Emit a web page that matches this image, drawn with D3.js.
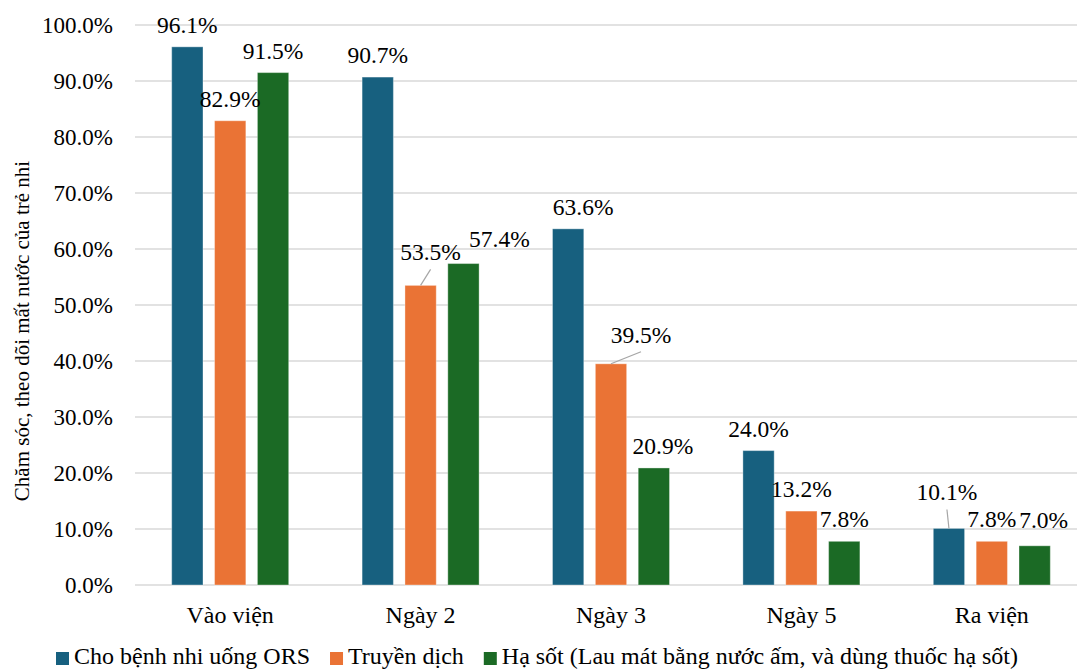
<!DOCTYPE html>
<html>
<head>
<meta charset="utf-8">
<script src="https://cdn.jsdelivr.net/npm/d3@7"></script>
<style>
  body { margin: 0; background: #fff; }
  svg text { font-family: "Liberation Serif", "Times New Roman", serif; fill: #000; }
</style>
</head>
<body>
<svg id="chart" width="1077" height="669"></svg>
<script>
// data
const categories = ['Vào viện', 'Ngày 2', 'Ngày 3', 'Ngày 5', 'Ra viện'];
const seriesNames = ['Cho bệnh nhi uống ORS', 'Truyền dịch', 'Hạ sốt (Lau mát bằng nước ấm, và dùng thuốc hạ sốt)'];
const ors = [96.1, 90.7, 63.6, 24.0, 10.1];
const truyenDich = [82.9, 53.5, 39.5, 13.2, 7.8];
const haSot = [91.5, 57.4, 20.9, 7.8, 7.0];
const yTicks = [0, 10, 20, 30, 40, 50, 60, 70, 80, 90, 100];

// label nudges [dx, dy, leader] per series, per category (layout only)
const labelNudge = [
  [[0, 0], [0, 0], [15, 0], [0, 0], [-2, -14, true]],
  [[0, 0], [10, -11, true], [30, -7, true], [0, 0], [0, 0]],
  [[0, 0], [36, -3], [9, 0], [0, 0], [9, -4]]
];

const colors = ['#17607f', '#ea7335', '#1b6a25'];
const series = [ors, truyenDich, haSot];

const svg = d3.select('#chart');
const margin = { left: 135, top: 25, bottom: 585 },
  plotRight = 1087;

const x = d3.scaleBand().domain(categories).range([margin.left, plotRight]).paddingInner(0).paddingOuter(0);
const xs = d3.scaleBand().domain(d3.range(3)).range([0, 117]).paddingInner(0.27);
const y = d3.scaleLinear().domain([0, 100]).range([margin.bottom, margin.top]);

// gridlines
svg.append('g')
  .selectAll('line')
  .data(yTicks)
  .join('line')
  .attr('x1', margin.left)
  .attr('x2', 1077)
  .attr('y1', d => y(d))
  .attr('y2', d => y(d))
  .style('stroke', '#d9d9d9')
  .style('stroke-width', 1.5);

// y tick labels
svg.append('g')
  .selectAll('text')
  .data(yTicks)
  .join('text')
  .attr('x', 113)
  .attr('y', d => y(d))
  .attr('dy', '0.33em')
  .style('text-anchor', 'end')
  .style('font-size', '23px')
  .text(d => d.toFixed(1) + '%');

// axis title
svg.append('text')
  .attr('transform', 'translate(29,331) rotate(-90)')
  .style('text-anchor', 'middle')
  .style('font-size', '21px')
  .text('Chăm sóc, theo dõi mất nước của trẻ nhi');

const groupOffset = (x.bandwidth() - 117) / 2;
const barX = (ci, si) => x(categories[ci]) + groupOffset + xs(si);

// bars
series.forEach((vals, si) => {
  svg.append('g')
    .selectAll('rect')
    .data(vals)
    .join('rect')
    .attr('x', (d, i) => barX(i, si))
    .attr('width', xs.bandwidth())
    .attr('y', d => y(d))
    .attr('height', d => y(0) - y(d))
    .style('fill', colors[si])
    .style('stroke', 'rgba(255,255,255,0.35)')
    .style('stroke-width', 1);
});

// data labels
series.forEach((vals, si) => {
  vals.forEach((v, ci) => {
    const n = labelNudge[si][ci],
      cx = barX(ci, si) + xs.bandwidth() / 2,
      lx = cx + n[0],
      ly = y(v) - 14 + n[1];
    if (n[2]) {
      svg.append('line')
        .attr('x1', lx)
        .attr('y1', ly + 9)
        .attr('x2', cx)
        .attr('y2', y(v))
        .style('stroke', '#a6a6a6')
        .style('stroke-width', 1.2);
    }
    svg.append('text')
      .attr('x', lx)
      .attr('y', ly)
      .style('text-anchor', 'middle')
      .style('font-size', '23.5px')
      .text(v.toFixed(1) + '%');
  });
});

// category labels
svg.append('g')
  .selectAll('text')
  .data(categories)
  .join('text')
  .attr('x', d => x(d) + x.bandwidth() / 2)
  .attr('y', 623)
  .style('text-anchor', 'middle')
  .style('font-size', '24px')
  .text(d => d);

// legend, laid out from measured text widths
let lx = 56;
seriesNames.forEach((name, i) => {
  const g = svg.append('g').attr('transform', `translate(${lx},0)`);
  g.append('rect')
    .attr('x', 0)
    .attr('y', 652)
    .attr('width', 13)
    .attr('height', 13)
    .style('fill', colors[i]);
  const t = g.append('text')
    .attr('x', 18)
    .attr('y', 664)
    .style('font-size', '24px')
    .text(name);
  lx += 18 + t.node().getComputedTextLength() + 20;
});
</script>
</body>
</html>
